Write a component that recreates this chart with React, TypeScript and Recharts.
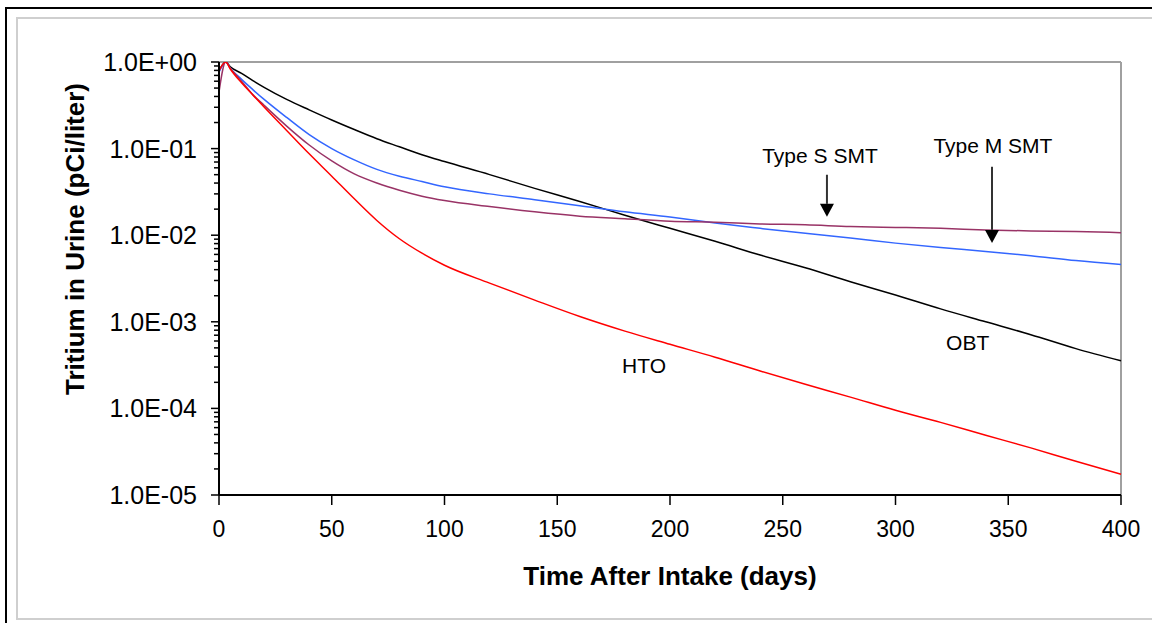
import { LineChart, Line, XAxis, YAxis, ReferenceLine, ReferenceDot } from "recharts"

const days = [0, 3, 5, 10, 15, 20, 30, 40, 50, 60, 70, 80, 90, 100, 120, 140, 160, 180, 200, 220, 240, 260, 280, 300, 320, 340, 360, 380, 400]

const hto = [0.79, 1.0, 0.83, 0.575, 0.417, 0.302, 0.162, 0.087, 0.048, 0.0263, 0.0148, 0.0091, 0.0062, 0.0045, 0.0028, 0.00178, 0.00115, 0.00078, 0.00055, 0.00039, 0.00027, 0.00019, 0.000135, 0.000095, 0.000069, 0.000049, 0.000035, 0.0000245, 0.0000174]

const obt = [0.79, 1.0, 0.88, 0.74, 0.61, 0.51, 0.37, 0.28, 0.214, 0.166, 0.13, 0.105, 0.085, 0.0708, 0.0501, 0.0347, 0.0245, 0.017, 0.012, 0.0085, 0.0059, 0.0042, 0.0029, 0.00204, 0.00141, 0.001, 0.00071, 0.00049, 0.000355]

const typeM = [0.76, 1.0, 0.85, 0.63, 0.48, 0.37, 0.229, 0.145, 0.1, 0.074, 0.0575, 0.048, 0.0417, 0.0363, 0.03, 0.0257, 0.0219, 0.0186, 0.0162, 0.0138, 0.012, 0.0105, 0.0093, 0.0081, 0.0072, 0.0065, 0.0058, 0.0051, 0.0046]

const typeS = [0.45, 1.0, 0.85, 0.6, 0.42, 0.316, 0.182, 0.11, 0.072, 0.051, 0.04, 0.033, 0.0282, 0.0251, 0.0214, 0.0186, 0.0166, 0.0155, 0.0145, 0.0141, 0.0135, 0.0132, 0.0126, 0.0123, 0.012, 0.0115, 0.0112, 0.011, 0.0107]

const xTicks = [0, 50, 100, 150, 200, 250, 300, 350, 400]
const majorTicks = [1e-5, 1e-4, 1e-3, 1e-2, 1e-1, 1]
const minorSteps = [2, 3, 4, 5, 6, 7, 8, 9]

// annotation text and arrows, in data coordinates
const labels = [
  { text: "Type S SMT", x: 266.5, y: 0.0687 },
  { text: "Type M SMT", x: 343.2, y: 0.0897 },
  { text: "OBT", x: 332, y: 0.000471 },
  { text: "HTO", x: 188.5, y: 0.000255 },
]
const arrows = [
  { x: 269.6, from: 0.0499, to: 0.0163 },
  { x: 342.8, from: 0.0617, to: 0.00815 },
]

const data = days.map((day, i) => ({
  day,
  hto: hto[i],
  obt: obt[i],
  typeM: typeM[i],
  typeS: typeS[i],
}))

const yTicks: number[] = [...majorTicks]
for (let e = -5; e < 0; e++) {
  minorSteps.forEach((m) => yTicks.push(Number(`${m}e${e}`)))
}
yTicks.sort((a, b) => a - b)

const font = '"Liberation Sans", Arial, sans-serif'

function fmtExp(v: number) {
  const e = Math.round(Math.log10(v))
  return `1.0E${e < 0 ? "-" : "+"}${String(Math.abs(e)).padStart(2, "0")}`
}

function YTick(props: any) {
  const { x, y, payload } = props
  const major = majorTicks.includes(payload.value)
  return (
    <g>
      <line x1={major ? x - 8 : x - 5} x2={x} y1={y} y2={y} stroke="#000" strokeWidth={1.5} />
      {major && (
        <text x={x - 22} y={y} dy="0.36em" textAnchor="end" fontSize={25} fontFamily={font} fill="#000">
          {fmtExp(payload.value)}
        </text>
      )}
    </g>
  )
}

function ArrowShape(props: any) {
  const { x1, y1, x2, y2 } = props
  const head = 13
  return (
    <g>
      <line x1={x1} y1={y1} x2={x2} y2={y2 - head} stroke="#333" strokeWidth={2} />
      <polygon points={`${x2 - 7},${y2 - head} ${x2 + 7},${y2 - head} ${x2},${y2}`} fill="#000" />
    </g>
  )
}

function YTitle(props: any) {
  const vb = props.viewBox || { x: 0, y: 62 }
  const cx = vb.x + 75
  const cy = vb.y + 177
  return (
    <text
      x={cx}
      y={cy}
      transform={`rotate(-90 ${cx} ${cy})`}
      textAnchor="middle"
      dy="0.36em"
      fontSize={26}
      fontWeight="bold"
      fontFamily={font}
      fill="#000"
    >
      Tritium in Urine (pCi/liter)
    </text>
  )
}

export default function App() {
  return (
    <div style={{ position: "absolute", left: 0, top: 0, width: 1152, height: 623, background: "#fff" }}>
      <div
        style={{
          position: "absolute",
          left: 5,
          top: 7,
          right: 0,
          bottom: 0,
          borderLeft: "2px solid #000",
          borderTop: "2px solid #000",
        }}
      />
      <div
        style={{
          position: "absolute",
          left: 16,
          top: 17,
          width: 1134,
          height: 599,
          border: "2px solid #cfcfcf",
        }}
      />
      <div style={{ position: "absolute", left: 0, top: 0 }}>
        <LineChart width={1152} height={623} data={data} margin={{ top: 62, right: 31, bottom: 28, left: 0 }}>
          <XAxis
            dataKey="day"
            type="number"
            domain={[0, 400]}
            ticks={xTicks}
            interval={0}
            tickSize={10}
            tickMargin={16}
            height={100}
            axisLine={{ stroke: "#000", strokeWidth: 2 }}
            tickLine={{ stroke: "#000", strokeWidth: 1.5 }}
            tick={{ fontSize: 23, fontFamily: font, fill: "#000" }}
            label={{
              value: "Time After Intake (days)",
              position: "insideBottom",
              offset: 10,
              fontSize: 26,
              fontWeight: "bold",
              fontFamily: font,
              fill: "#000",
            }}
          />
          <YAxis
            type="number"
            scale="log"
            domain={[1e-5, 1]}
            allowDataOverflow
            ticks={yTicks}
            interval={0}
            width={219}
            tickSize={0}
            tickMargin={0}
            tickLine={false}
            axisLine={{ stroke: "#000", strokeWidth: 2 }}
            tick={<YTick />}
            label={{ content: <YTitle /> }}
          />
          <ReferenceLine y={1} stroke="#a0a0a0" strokeWidth={2} />
          <ReferenceLine x={400} stroke="#a0a0a0" strokeWidth={2} />
          <Line type="monotone" dataKey="obt" stroke="#000000" strokeWidth={1.5} dot={false} isAnimationActive={false} />
          <Line type="monotone" dataKey="typeM" stroke="#3366ff" strokeWidth={1.5} dot={false} isAnimationActive={false} />
          <Line type="monotone" dataKey="typeS" stroke="#993366" strokeWidth={1.5} dot={false} isAnimationActive={false} />
          <Line type="monotone" dataKey="hto" stroke="#ff0000" strokeWidth={1.5} dot={false} isAnimationActive={false} />
          {arrows.map((a, i) => (
            <ReferenceLine
              key={`arrow-${i}`}
              segment={[
                { x: a.x, y: a.from },
                { x: a.x, y: a.to },
              ]}
              shape={<ArrowShape />}
            />
          ))}
          {labels.map((l) => (
            <ReferenceDot
              key={l.text}
              x={l.x}
              y={l.y}
              r={0}
              shape={(p: any) => (
                <text x={p.cx} y={p.cy} textAnchor="middle" fontSize={21} fontFamily={font} fill="#000">
                  {l.text}
                </text>
              )}
            />
          ))}
        </LineChart>
      </div>
    </div>
  )
}
